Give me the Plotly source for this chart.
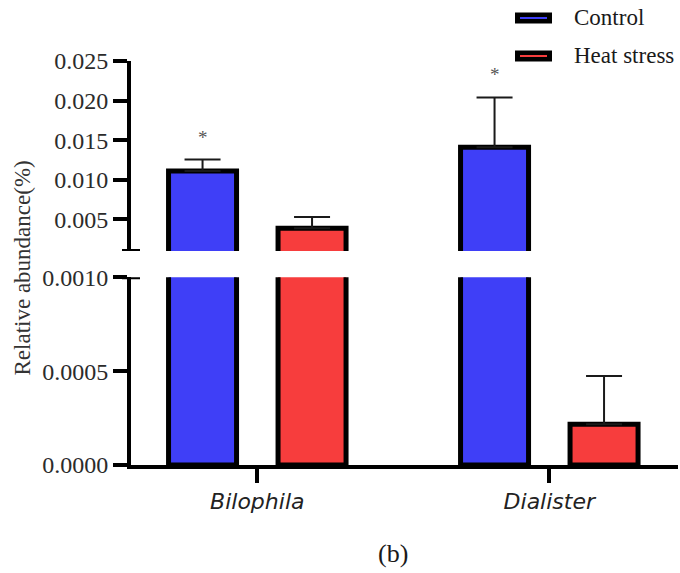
import plotly.graph_objects as go

# ---- data -------------------------------------------------------------
categories = ["Bilophila", "Dialister"]
series_names = ["Control", "Heat stress"]
control_mean = [0.0111, 0.0141]
control_se = [0.00145, 0.0063]
heat_mean = [0.00386, 0.000217]
heat_se = [0.00143, 0.000257]
significance = ["*", "*"]  # Control vs Heat stress

lower_ticks = [0.0, 0.0005, 0.0010]
upper_ticks = [0.005, 0.010, 0.015, 0.020, 0.025]
lower_range = [0.0, 0.0010]
upper_range = [0.0010, 0.025]

# ---- styling ------------------------------------------------------------
W, H = 680, 573
L, R, T, B = 131, 2, 61, 108
PW, PH = W - L - R, H - T - B
BLUE = "#3f3ff7"
RED = "#f73d3d"
SERIF = "Liberation Serif, Times New Roman, serif"
TEXT = "#2b2b2b"
BARGAP = 0.25
BARGROUPGAP = 0.379


def px_x(px):
    return (px - L) / PW


def px_y(py):
    return (H - B - py) / PH


fig = go.Figure()

# each series is drawn on both halves of the broken axis
for name, means, se, color in [
    (series_names[0], control_mean, control_se, BLUE),
    (series_names[1], heat_mean, heat_se, RED),
]:
    for ax in ["y", "y2"]:
        fig.add_trace(
            go.Bar(
                x=categories,
                y=means,
                name=name,
                yaxis=ax,
                xaxis="x",
                offsetgroup=name,
                showlegend=False,
                marker=dict(color=color, line=dict(color="black", width=5)),
                error_y=dict(
                    type="data",
                    symmetric=False,
                    array=se,
                    arrayminus=[0] * len(se),
                    color="#1a1a1a",
                    thickness=2,
                    width=18,
                ),
            )
        )

axis_style = dict(
    showline=True,
    linecolor="black",
    linewidth=4,
    ticks="outside",
    ticklen=14,
    tickwidth=4,
    tickcolor="black",
    showgrid=False,
    zeroline=False,
    tickfont=dict(family=SERIF, size=24, color=TEXT),
)

lower_top = px_y(277.3)
upper_bottom = px_y(251)

fig.update_layout(
    width=W,
    height=H,
    margin=dict(l=L, r=R, t=T, b=B),
    paper_bgcolor="white",
    plot_bgcolor="white",
    barmode="group",
    bargap=BARGAP,
    bargroupgap=BARGROUPGAP,
    xaxis=dict(
        type="category",
        range=[(L - 257.3) / 292, (W - R - 257.3) / 292],
        anchor="y",
        showline=True,
        linecolor="black",
        linewidth=4,
        ticks="outside",
        ticklen=14,
        tickwidth=4,
        tickcolor="black",
        showgrid=False,
        zeroline=False,
        tickfont=dict(family="DejaVu Sans", size=22, color="#222222", style="italic"),
    ),
    yaxis=dict(
        domain=[0, lower_top],
        range=lower_range,
        tickvals=lower_ticks,
        tickformat=".4f",
        anchor="x",
        **axis_style,
    ),
    yaxis2=dict(
        domain=[upper_bottom, 1],
        range=upper_range,
        tickvals=upper_ticks,
        tickformat=".3f",
        anchor="x",
        **axis_style,
    ),
    showlegend=False,
)

# end caps marking the axis break
cap = 9 / PW
fig.add_shape(type="line", xref="paper", yref="y2", x0=-cap, x1=cap,
              y0=upper_range[0], y1=upper_range[0],
              line=dict(color="black", width=4))
fig.add_shape(type="line", xref="paper", yref="y", x0=-cap, x1=cap,
              y0=lower_range[1], y1=lower_range[1],
              line=dict(color="black", width=4))

# significance marks above the Control bars
ctrl_offset = (1 - BARGAP) / 4
for i, mark in enumerate(significance):
    fig.add_annotation(
        x=i - ctrl_offset, y=control_mean[i] + control_se[i],
        xref="x", yref="y2", text=mark, showarrow=False,
        yanchor="bottom", yshift=10,
        font=dict(family=SERIF, size=19, color="#555555"),
    )

# legend swatches
for (name, color), cy in zip(zip(series_names, [BLUE, RED]), [18, 56]):
    fig.add_shape(type="rect", xref="paper", yref="paper",
                  x0=px_x(515), x1=px_x(552), y0=px_y(cy - 5.5), y1=px_y(cy + 5.5),
                  fillcolor="black", line=dict(width=0))
    fig.add_shape(type="line", xref="paper", yref="paper",
                  x0=px_x(520), x1=px_x(547), y0=px_y(cy), y1=px_y(cy),
                  line=dict(color=color, width=2))
    fig.add_annotation(
        x=px_x(572), y=px_y(cy), xref="paper", yref="paper",
        text=name, showarrow=False, xanchor="left", yanchor="middle",
        font=dict(family=SERIF, size=23, color="#1a1a1a"),
    )

# y axis title spanning both halves
fig.add_annotation(
    x=px_x(22), y=px_y(267.5), xref="paper", yref="paper",
    text="Relative abundance(%)", textangle=-90, showarrow=False,
    xanchor="center", yanchor="middle",
    font=dict(family=SERIF, size=23, color="#333333"),
)

# panel label
fig.add_annotation(
    x=px_x(393), y=px_y(553), xref="paper", yref="paper",
    text="(b)", showarrow=False, xanchor="center", yanchor="middle",
    font=dict(family=SERIF, size=26, color="#1a1a1a"),
)

fig.write_html("out.html")
